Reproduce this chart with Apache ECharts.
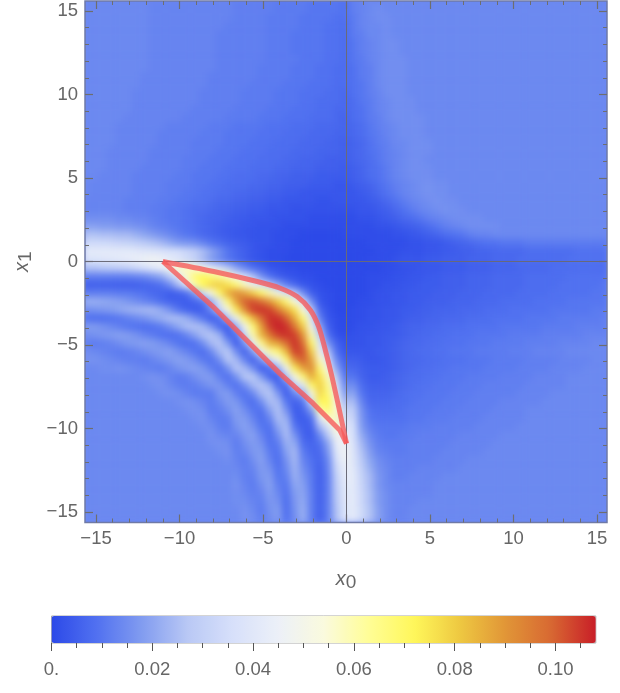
<!DOCTYPE html>
<html>
<head>
<meta charset="utf-8">
<title>x0 x1 density</title>
<script src="https://cdn.jsdelivr.net/npm/echarts@6/dist/echarts.min.js"></script>
<style>
  html, body { margin: 0; padding: 0; background: #fff; }
  #page { position: relative; width: 620px; height: 693px; overflow: hidden; }
  #plotClip { position: absolute; left: 85px; top: 1px; width: 522px; height: 522px; overflow: hidden; background: #6a87f5; }
  #heat { position: absolute; left: -3px; top: -4px; width: 526px; height: 526px; filter: blur(3.5px); }
  #overlay { position: absolute; left: 0; top: 0; width: 620px; height: 693px; }
</style>
</head>
<body>
<div id="page">
  <div id="plotClip"><div id="heat"></div></div>
  <div id="overlay"></div>
</div>
<script>
// values, in thousandths. rows run x1 = 15.5 down to -15.5, columns x0 = -15.5 to 15.5, step 0.5
var densityRows = [
[14,14,14,14,14,14,14,14,13,13,13,13,13,13,13,13,13,13,12,12,12,12,12,11,11,11,11,10,10,10,10,9, 12,13,14,14,14,14,14,14,14,14,14,14,14,14,14,14,14,14,14,14,14,14,14,14,14,14,14,14,14,14,14],
[14,14,14,14,14,14,14,14,13,13,13,13,13,13,13,13,13,13,12,12,12,12,12,11,11,11,11,10,10,10,10,9, 12,13,14,15,14,14,14,14,14,14,14,14,14,14,14,14,14,14,14,14,14,14,14,14,14,14,14,14,14,14,14],
[14,14,14,14,14,14,14,14,13,13,13,13,13,13,13,13,13,13,12,12,12,12,11,11,11,11,10,10,10,10,9,9, 11,13,14,15,15,14,14,14,14,14,14,14,14,14,14,14,14,14,14,14,14,14,14,14,14,14,14,14,14,14,14],
[14,14,14,14,14,14,14,14,13,13,13,13,13,13,13,13,13,12,12,12,12,12,11,11,11,11,10,10,10,9,9,8, 11,13,14,14,15,14,14,14,14,14,14,14,14,14,14,14,14,14,14,14,14,14,14,14,14,14,14,14,14,14,14],
[14,14,14,14,14,14,14,14,13,13,13,13,13,13,13,13,12,12,12,12,12,12,11,11,11,10,10,10,10,9,9,8, 11,12,14,14,15,14,14,14,14,14,14,14,14,14,14,14,14,14,14,14,14,14,14,14,14,14,14,14,14,14,14],
[14,14,14,14,14,14,14,14,13,13,13,13,13,13,13,13,12,12,12,12,12,12,11,11,11,10,10,10,10,9,9,8, 10,12,13,14,15,15,14,14,14,14,14,14,14,14,14,14,14,14,14,14,14,14,14,14,14,14,14,14,14,14,14],
[14,14,14,14,14,14,14,14,13,13,13,13,13,13,13,13,12,12,12,12,12,12,11,11,11,10,10,10,10,9,9,8, 10,12,13,14,15,15,14,14,14,14,14,14,14,14,14,14,14,14,14,14,14,14,14,14,14,14,14,14,14,14,14],
[14,14,14,14,14,14,14,14,13,13,13,13,13,13,13,13,12,12,12,12,12,12,11,11,11,11,10,10,10,9,9,8, 10,11,13,14,15,15,15,14,14,14,14,14,14,14,14,14,14,14,14,14,14,14,14,14,14,14,14,14,14,14,14],
[14,14,14,14,14,14,14,14,13,13,13,13,13,13,13,13,12,12,12,12,12,11,11,11,11,10,10,10,9,9,8,8, 9,11,12,14,15,15,15,14,14,14,14,14,14,14,14,14,14,14,14,14,14,14,14,14,14,14,14,14,14,14,14],
[14,14,14,14,14,14,14,13,13,13,13,13,13,13,13,12,12,12,12,12,12,11,11,11,11,10,10,10,9,9,8,8, 9,11,12,14,15,15,15,14,14,14,14,14,14,14,14,14,14,14,14,14,14,14,14,14,14,14,14,14,14,14,14],
[14,14,14,14,14,14,14,13,13,13,13,13,13,13,13,12,12,12,12,12,11,11,11,11,10,10,10,9,9,9,8,8, 9,10,12,14,15,15,15,14,14,14,14,14,14,14,14,14,14,14,14,14,14,14,14,14,14,14,14,14,14,14,14],
[14,14,14,14,14,14,13,13,13,13,13,13,13,13,12,12,12,12,12,11,11,11,11,10,10,10,9,9,9,8,8,7, 9,10,12,13,15,15,15,14,14,14,14,14,14,14,14,14,14,14,14,14,14,14,14,14,14,14,14,14,14,14,14],
[14,14,14,14,14,14,13,13,13,13,13,13,13,13,12,12,12,12,12,11,11,11,11,10,10,10,9,9,8,8,8,7, 8,10,11,13,14,15,15,15,14,14,14,14,14,14,14,14,14,14,14,14,14,14,14,14,14,14,14,14,14,14,14],
[14,14,14,14,14,14,13,13,13,13,13,13,13,12,12,12,12,12,11,11,11,11,10,10,10,9,9,9,8,8,7,7, 8,9,11,13,14,15,15,15,14,14,14,14,14,14,14,14,14,14,14,14,14,14,14,14,14,14,14,14,14,14,14],
[14,14,14,14,14,13,13,13,13,13,13,13,12,12,12,12,12,11,11,11,11,10,10,10,9,9,9,8,8,8,7,6, 8,9,11,12,14,15,15,15,15,14,14,14,14,14,14,14,14,14,14,14,14,14,14,14,14,14,14,14,14,14,14],
[14,14,14,14,13,13,13,13,13,13,12,12,12,12,12,11,11,11,10,10,10,10,9,9,9,8,8,8,7,7,7,6, 7,8,10,12,13,14,15,15,15,14,14,14,14,14,14,14,14,14,14,14,14,14,14,14,14,14,14,14,14,14,14],
[14,14,14,14,13,13,13,13,13,12,12,12,12,12,11,11,11,10,10,10,10,9,9,9,8,8,8,7,7,7,6,6, 7,8,10,11,13,14,15,15,15,14,14,14,14,14,14,14,14,14,14,14,14,14,14,14,14,14,14,14,14,14,14],
[14,14,14,14,13,13,13,13,13,12,12,12,12,11,11,11,11,10,10,10,9,9,9,8,8,8,7,7,7,6,6,5, 6,7,9,11,12,14,14,15,15,15,14,14,14,14,14,14,14,14,14,14,14,14,14,14,14,14,14,14,14,14,14],
[14,14,14,13,13,13,13,13,12,12,12,12,12,11,11,11,10,10,10,9,9,9,8,8,8,7,7,7,6,6,6,5, 6,7,9,10,12,13,14,15,15,15,14,14,14,14,14,14,14,14,14,14,14,14,14,14,14,14,14,14,14,14,14],
[14,14,14,13,13,13,13,13,12,12,12,12,11,11,11,10,10,10,9,9,9,8,8,8,7,7,6,6,6,5,5,5, 6,7,8,10,12,13,14,15,15,14,14,14,14,14,14,14,14,14,14,14,14,14,14,14,14,14,14,14,14,14,14],
[14,14,14,13,13,13,13,12,12,12,12,12,11,11,10,10,10,9,9,9,8,8,8,7,7,6,6,6,5,5,5,4, 5,6,8,9,11,13,14,15,15,15,14,14,14,14,14,14,14,14,14,14,14,14,14,14,14,14,14,14,14,14,14],
[14,14,13,13,13,13,12,12,12,12,12,11,11,10,10,10,9,9,8,8,8,7,7,6,6,5,5,5,4,4,4,4, 5,6,8,9,11,13,14,15,15,15,14,14,14,14,14,14,14,14,14,14,14,14,14,14,14,14,14,14,14,14,14],
[14,13,13,13,13,13,12,12,12,12,11,11,11,10,10,9,9,8,8,8,7,7,6,6,5,5,5,4,4,4,3,3, 4,5,6,8,10,12,13,14,15,16,15,15,14,14,14,14,14,14,14,14,14,14,14,14,14,14,14,14,14,14,14],
[14,13,13,13,13,13,12,12,12,12,11,11,10,10,9,9,8,8,7,7,6,6,5,5,4,4,3,3,3,3,3,3, 3,4,5,7,9,11,13,14,15,16,15,15,14,14,14,14,14,14,14,14,14,14,14,14,14,14,14,14,14,14,14],
[13,13,13,13,13,12,12,12,12,11,11,10,10,9,9,8,7,7,6,6,5,5,4,4,3,3,3,3,2,2,3,3, 3,3,4,5,7,9,11,13,14,15,16,15,15,14,14,14,14,14,14,14,14,14,14,14,14,14,14,14,14,14,14],
[13,13,13,13,13,12,12,12,11,11,10,10,9,8,8,7,6,6,5,5,4,4,3,3,3,2,2,2,2,2,2,2, 2,3,3,4,5,7,9,11,13,14,15,16,15,15,14,14,14,14,14,14,14,14,14,14,14,14,14,14,14,14,14],
[15,15,15,15,14,14,13,13,12,11,10,10,9,8,7,6,6,5,4,4,3,3,3,2,2,2,2,1,1,1,1,1, 1,2,2,3,4,5,7,8,10,12,13,14,15,15,15,15,14,14,14,14,14,14,14,14,14,14,14,14,14,14,14],
[19,19,18,18,17,17,16,15,13,12,11,10,9,8,7,6,5,4,4,3,3,2,2,2,1,1,1,1,1,1,1,1, 1,1,1,2,2,3,4,5,6,8,10,12,13,14,15,15,15,15,14,14,14,14,14,14,14,14,14,14,14,14,14],
[26,26,25,25,24,24,22,20,18,16,14,12,10,9,7,6,5,4,3,3,2,2,2,1,1,1,0,0,0,0,0,1, 1,1,1,1,1,2,2,3,4,5,6,8,9,10,12,13,13,14,14,14,14,14,14,14,14,14,14,14,14,14,14],
[34,34,34,33,32,31,30,28,26,24,21,18,17,16,13,10,8,6,5,4,3,2,2,1,1,0,0,0,0,0,0,0, 0,0,1,1,1,1,1,2,2,3,3,4,5,6,7,8,9,9,10,10,10,11,11,11,11,11,11,11,11,11,11],
[42,42,42,42,42,42,41,40,39,38,37,36,33,30,25,20,15,10,7,5,3,2,1,1,1,0,0,0,0,0,0,0, 0,0,0,1,1,1,2,2,2,3,3,4,4,5,5,6,6,7,7,7,7,8,8,8,8,8,8,9,9,9,9],
[38,38,39,40,41,42,44,46,47,46,42,38,34,30,24,18,14,10,7,5,3,2,1,1,0,0,0,0,0,0,0,0, 0,0,1,1,1,2,3,3,3,4,4,5,5,5,6,6,6,7,7,7,8,8,8,8,8,8,9,9,9,9,9],
[26,26,27,28,29,30,33,36,40,44,50,56,58,55,48,44,36,28,20,14,9,6,3,2,1,1,0,0,0,0,0,0, 0,0,0,0,1,1,2,2,3,3,3,4,4,4,5,5,5,6,6,6,7,7,7,7,8,8,8,8,8,8,8],
[12,12,12,12,12,12,13,14,17,20,28,38,56,68,72,68,64,58,48,36,26,16,9,5,3,2,1,1,0,0,0,0, 0,0,1,1,1,2,2,3,3,4,4,5,5,5,6,6,6,7,7,7,7,8,8,8,8,8,9,9,9,9,9],
[5,5,5,5,5,5,5,6,7,9,14,24,40,60,72,78,80,76,68,58,46,38,28,20,12,7,3,2,1,0,0,0, 0,0,1,1,2,2,3,3,4,4,4,5,5,5,6,6,6,7,7,7,7,8,8,8,8,9,9,9,9,9,10],
[12,12,12,12,11,11,10,9,7,6,4,5,8,18,34,52,70,86,92,88,80,70,60,50,38,28,15,5,2,1,0,0, 0,0,1,2,2,3,3,4,4,4,5,5,5,6,6,6,7,7,7,7,8,8,8,8,9,9,9,9,9,10,10],
[22,22,21,20,19,17,15,13,11,8,6,5,4,6,10,22,40,68,88,100,102,98,90,80,68,52,36,15,3,1,0,0, 0,1,1,2,2,3,3,4,4,5,5,5,6,6,6,7,7,7,8,8,8,8,9,9,9,9,10,10,10,10,10],
[15,16,17,18,20,22,23,24,24,21,16,10,6,4,5,14,30,50,74,92,104,106,104,96,86,76,52,28,7,2,0,0, 1,1,2,2,3,3,4,4,5,5,6,6,6,7,7,7,8,8,8,9,9,9,9,9,10,10,10,10,10,11,11],
[9,8,8,9,10,12,14,16,19,22,25,25,22,16,10,4,8,26,46,68,84,98,106,106,100,86,68,38,12,3,1,0, 1,1,2,2,3,3,4,5,5,6,6,7,7,7,8,8,8,9,9,9,9,10,10,10,10,11,11,11,11,11,12],
[18,18,16,14,12,10,9,8,9,11,15,20,25,26,24,17,7,4,22,46,68,88,104,108,106,96,80,50,20,5,1,0, 1,2,2,3,3,4,5,6,6,7,7,8,8,8,9,9,9,9,10,10,10,10,10,11,11,11,11,12,12,12,12],
[15,16,17,18,19,18,16,13,11,9,8,9,13,19,25,27,22,6,8,32,60,84,96,104,106,104,90,60,28,9,2,1, 2,2,3,3,4,4,5,6,7,7,8,8,9,9,9,10,10,10,10,11,11,11,11,12,12,12,12,12,13,13,13],
[12,11,12,13,15,17,18,19,18,16,13,10,8,9,15,24,27,18,4,16,44,64,84,88,98,106,98,70,38,16,6,2, 2,2,3,3,4,5,6,7,7,8,8,9,9,9,10,10,10,11,11,11,11,12,12,12,12,13,13,13,13,14,14],
[15,14,13,12,11,12,13,15,17,18,19,16,13,10,8,14,24,28,15,5,18,44,60,68,84,104,102,80,46,26,9,3, 3,3,3,4,4,5,6,7,8,8,9,9,10,10,10,11,11,11,11,12,12,12,13,13,13,13,14,14,14,14,14],
[16,16,15,14,13,12,12,11,13,15,17,19,18,15,11,9,15,27,24,13,5,16,32,46,68,92,100,88,58,36,14,5, 5,4,3,3,4,5,6,7,7,8,8,9,9,9,10,10,10,11,11,11,11,12,12,12,12,13,13,13,13,14,14],
[14,14,15,15,16,15,14,13,12,11,13,16,18,19,17,12,9,16,27,24,15,4,8,22,46,74,88,92,68,48,20,7, 7,5,4,4,4,5,6,7,8,8,9,9,10,10,10,10,11,11,11,11,12,12,12,12,13,13,13,13,14,14,14],
[14,14,14,14,14,14,14,15,16,15,13,11,12,15,18,18,12,9,16,27,28,18,6,4,26,50,68,86,76,58,28,10, 10,6,4,4,5,6,7,8,8,9,9,10,10,10,11,11,11,11,12,12,12,12,13,13,13,13,14,14,14,14,14],
[14,14,14,14,14,14,14,14,15,16,14,12,11,12,14,17,17,12,9,15,24,27,22,7,8,30,40,70,80,64,36,14, 15,8,5,5,5,6,7,8,9,9,10,10,10,11,11,11,12,12,12,12,12,13,13,13,13,13,14,14,14,14,14],
[14,14,14,14,14,14,14,14,14,15,16,15,13,11,11,11,17,18,12,9,14,24,27,17,4,14,22,52,78,68,44,18, 20,10,6,6,6,7,8,9,9,10,10,10,11,11,11,12,12,12,12,12,13,13,13,13,14,14,14,14,14,14,14],
[14,14,14,14,14,14,14,14,14,14,14,15,16,15,13,11,14,18,17,11,8,15,25,24,10,5,10,34,72,72,48,24, 25,13,7,7,7,8,8,9,10,10,10,11,11,11,12,12,12,12,13,13,13,13,13,14,14,14,14,14,14,14,14],
[14,14,14,14,14,14,14,14,14,14,14,14,15,16,15,11,12,15,19,15,10,9,19,26,16,4,6,18,60,68,55,30, 30,16,9,8,8,8,9,10,10,10,11,11,11,12,12,12,12,13,13,13,13,14,14,14,14,14,14,14,14,14,14],
[14,14,14,14,14,14,14,14,14,14,14,14,14,15,16,13,11,12,18,18,13,8,13,25,22,6,4,8,40,56,58,34, 33,17,10,9,9,9,9,10,10,11,11,11,12,12,12,12,13,13,13,13,13,14,14,14,14,14,14,14,14,14,14],
[14,14,14,14,14,14,14,14,14,14,14,14,14,14,15,15,12,11,16,19,16,10,9,20,25,10,5,5,24,38,56,38, 36,18,12,10,10,10,10,11,11,11,12,12,12,12,12,13,13,13,13,13,14,14,14,14,14,14,14,14,14,14,14],
[14,14,14,14,14,14,14,14,14,14,14,14,14,14,14,16,14,13,13,17,19,13,8,15,25,16,6,4,14,28,50,42, 37,21,14,11,10,10,11,11,12,12,12,12,12,13,13,13,13,13,14,14,14,14,14,14,14,14,14,14,14,14,14],
[14,14,14,14,14,14,14,14,14,14,14,14,14,14,14,15,16,15,11,15,18,16,9,11,22,21,8,6,9,20,44,46, 38,24,16,12,11,11,11,12,12,12,12,12,13,13,13,13,13,14,14,14,14,14,14,14,14,14,14,14,14,14,14],
[14,14,14,14,14,14,14,14,14,14,14,14,14,14,14,14,15,16,12,13,17,18,11,9,19,24,11,7,7,17,40,47, 39,26,18,13,12,11,11,12,12,12,12,13,13,13,13,13,14,14,14,14,14,14,14,14,14,14,14,14,14,14,14],
[14,14,14,14,14,14,14,14,14,14,14,14,14,14,14,14,14,15,13,11,15,19,13,8,16,24,13,9,6,14,36,46, 40,28,20,15,13,12,12,12,12,12,13,13,13,13,14,14,14,14,14,14,14,14,14,14,14,14,14,14,14,14,14],
[14,14,14,14,14,14,14,14,14,14,14,14,14,14,14,14,14,14,14,12,13,18,16,9,14,23,15,10,5,13,33,44, 41,30,22,16,14,12,12,12,13,13,13,13,13,14,14,14,14,14,14,14,14,14,14,14,14,14,14,14,14,14,14],
[14,14,14,14,14,14,14,14,14,14,14,14,14,14,14,14,14,14,15,12,12,17,18,10,12,22,17,11,5,12,30,42, 42,31,24,17,14,12,12,13,13,13,13,14,14,14,14,14,14,14,14,14,14,14,14,14,14,14,14,14,14,14,14],
[14,14,14,14,14,14,14,14,14,14,14,14,14,14,14,14,14,14,16,13,11,15,19,12,10,20,19,11,5,12,29,41, 42,32,24,17,14,13,13,13,13,13,14,14,14,14,14,14,14,14,14,14,14,14,14,14,14,14,14,14,14,14,14],
[14,14,14,14,14,14,14,14,14,14,14,14,14,14,14,14,14,14,15,14,12,13,18,14,9,18,20,12,5,12,28,40, 42,33,25,18,15,13,13,13,13,13,14,14,14,14,14,14,14,14,14,14,14,14,14,14,14,14,14,14,14,14,14],
[14,14,14,14,14,14,14,14,14,14,14,14,14,14,14,14,14,14,15,15,13,12,17,16,8,17,21,12,5,12,27,39, 42,33,25,18,15,13,13,13,14,14,14,14,14,14,14,14,14,14,14,14,14,14,14,14,14,14,14,14,14,14,14],
[14,14,14,14,14,14,14,14,14,14,14,14,14,14,14,14,14,14,14,16,14,11,16,18,8,16,22,12,5,12,26,38, 42,34,26,19,15,13,13,14,14,14,14,14,14,14,14,14,14,14,14,14,14,14,14,14,14,14,14,14,14,14,14],
[14,14,14,14,14,14,14,14,14,14,14,14,14,14,14,14,14,14,14,16,15,12,15,18,9,15,22,12,5,12,26,38, 42,34,26,19,15,13,13,14,14,14,14,14,14,14,14,14,14,14,14,14,14,14,14,14,14,14,14,14,14,14,14]
]

var colorStops = ['#2c49e8', '#5171f0', '#829cf0', '#b9c8f5', '#d7e0fa', '#ecf0f8', '#fafade', '#fffd96', '#fff75a', '#eec841', '#e19637', '#d86932', '#c81e28']

// outline of the region
var upperEdge = [[-11, 0], [-7.95, -0.6], [-5.35, -1.2], [-3.96, -1.6], [-2.96, -2.1], [-2.17, -2.9], [-1.67, -3.9], [-1.27, -5.3], [-0.87, -6.9], [-0.47, -8.7], [0, -10.9]]
var lowerEdge = [[-11, 0], [-8, -2.7], [-4, -6.7], [-2, -8.5], [-0.4, -10.1], [0, -10.9]]
var x0Line = [[0, -15.63], [0, 15.6]]
var x1Line = [[-15.66, 0], [15.6, 0]]

// tick labels
var majorTicks = [-15, -10, -5, 0, 5, 10, 15]
var minorTicks = [-14, -13, -12, -11, -9, -8, -7, -6, -4, -3, -2, -1, 1, 2, 3, 4, 6, 7, 8, 9, 11, 12, 13, 14]
var barMajorTicks = [0, 0.02, 0.04, 0.06, 0.08, 0.1]
var barMinorTicks = [0.005, 0.01, 0.015, 0.025, 0.03, 0.035, 0.045, 0.05, 0.055, 0.065, 0.07, 0.075, 0.085, 0.09, 0.095, 0.105]

var tickGray = '#6e6e6e'
var labelStyle = { color: '#666', fontSize: 18.5, fontFamily: 'Liberation Sans' }

function signed (v) {
  return String(v).replace('-', '\u2212')
}

function drawHeat () {
  var chart = echarts.init(document.getElementById('heat'))
  var cells = []
  densityRows.forEach(function (row, r) {
    row.forEach(function (v, c) {
      cells.push([c, densityRows.length - 1 - r, v])
    })
  })
  var hiddenAxis = {
    type: 'category',
    show: false,
    data: densityRows.map(function (row, i) { return i })
  }
  chart.setOption({
    animation: false,
    grid: { left: 0, right: 0, top: 0, bottom: 0 },
    xAxis: hiddenAxis,
    yAxis: hiddenAxis,
    visualMap: {
      show: false,
      min: 0,
      max: 108,
      inRange: { color: colorStops }
    },
    series: [{
      type: 'heatmap',
      data: cells,
      itemStyle: { borderWidth: 0 },
      progressive: 0
    }]
  })
}

function frameAxis (extra) {
  return Object.assign({
    type: 'value',
    min: -15.66,
    max: 15.6,
    splitLine: { show: false },
    axisLine: { show: false, onZero: false },
    axisLabel: { show: false },
    axisTick: { show: true, inside: true, length: 4, lineStyle: { color: tickGray, width: 1 }, customValues: minorTicks }
  }, extra)
}

function majorFrameTick () {
  return { show: true, inside: true, length: 8, lineStyle: { color: tickGray, width: 1.2 }, customValues: majorTicks }
}

function frameLabel () {
  return Object.assign({ show: true, margin: 7, customValues: majorTicks, formatter: signed }, labelStyle)
}

var axisNameRich = {
  i: { fontStyle: 'italic', fontSize: 20, color: '#666', fontFamily: 'Liberation Sans' },
  s: { fontSize: 19, color: '#666', fontFamily: 'Liberation Sans', padding: [7, 0, 0, 0] }
}

function drawOverlay () {
  var chart = echarts.init(document.getElementById('overlay'))
  var edge = { color: 'rgba(246,88,88,0.78)', width: 5 }
  chart.setOption({
    animation: false,
    backgroundColor: 'transparent',
    grid: [
      { left: 85, top: 1, width: 522, height: 521.5, show: true, borderColor: '#6f7aa6', borderWidth: 1.5, backgroundColor: 'transparent' },
      { left: 51.5, top: 616, width: 544.3, height: 27, show: true, borderColor: '#a8a8a8', borderWidth: 1, backgroundColor: 'transparent' }
    ],
    xAxis: [
      frameAxis({
        gridIndex: 0,
        position: 'bottom',
        axisTick: majorFrameTick(),
        axisLabel: frameLabel(),
        name: '{i|x}{s|0}',
        nameLocation: 'middle',
        nameGap: 44,
        nameTextStyle: { rich: axisNameRich }
      }),
      frameAxis({ gridIndex: 0, position: 'bottom' }),
      frameAxis({ gridIndex: 0, position: 'top', axisTick: majorFrameTick() }),
      frameAxis({ gridIndex: 0, position: 'top' }),
      {
        type: 'value',
        gridIndex: 1,
        min: 0,
        max: 0.108,
        position: 'bottom',
        splitLine: { show: false },
        axisLine: { show: false, onZero: false },
        axisTick: { show: true, length: 8, lineStyle: { color: '#555', width: 1 }, customValues: barMajorTicks },
        axisLabel: Object.assign({
          show: true,
          margin: 17,
          customValues: barMajorTicks,
          formatter: function (v) { return v === 0 ? '0.' : v.toFixed(2) }
        }, labelStyle)
      },
      {
        type: 'value',
        gridIndex: 1,
        min: 0,
        max: 0.108,
        position: 'bottom',
        splitLine: { show: false },
        axisLine: { show: false, onZero: false },
        axisLabel: { show: false },
        axisTick: { show: true, length: 5, lineStyle: { color: '#555', width: 1 }, customValues: barMinorTicks }
      }
    ],
    yAxis: [
      frameAxis({
        gridIndex: 0,
        position: 'left',
        min: -15.63,
        axisTick: majorFrameTick(),
        axisLabel: frameLabel(),
        name: '{i|x}{s|1}',
        nameLocation: 'middle',
        nameGap: 46,
        nameTextStyle: { rich: axisNameRich }
      }),
      frameAxis({ gridIndex: 0, position: 'left', min: -15.63 }),
      frameAxis({ gridIndex: 0, position: 'right', min: -15.63, axisTick: majorFrameTick() }),
      frameAxis({ gridIndex: 0, position: 'right', min: -15.63 }),
      { type: 'value', gridIndex: 1, show: false, min: 0, max: 1 }
    ],
    visualMap: {
      type: 'continuous',
      seriesIndex: [],
      min: 0,
      max: 108,
      orient: 'horizontal',
      left: 51.5,
      top: 616,
      padding: 0,
      itemWidth: 27,
      itemHeight: 544.3,
      calculable: false,
      hoverLink: false,
      inRange: { color: colorStops }
    },
    series: [
      { type: 'line', data: x0Line, symbol: 'none', silent: true, lineStyle: { color: '#6a6a78', width: 1 } },
      { type: 'line', data: x1Line, symbol: 'none', silent: true, lineStyle: { color: '#6a6a78', width: 1 } },
      { type: 'line', data: upperEdge, symbol: 'none', silent: true, smooth: 0.3, lineStyle: edge },
      { type: 'line', data: lowerEdge, symbol: 'none', silent: true, lineStyle: edge }
    ]
  })
}

drawHeat()
drawOverlay()
</script>
</body>
</html>
